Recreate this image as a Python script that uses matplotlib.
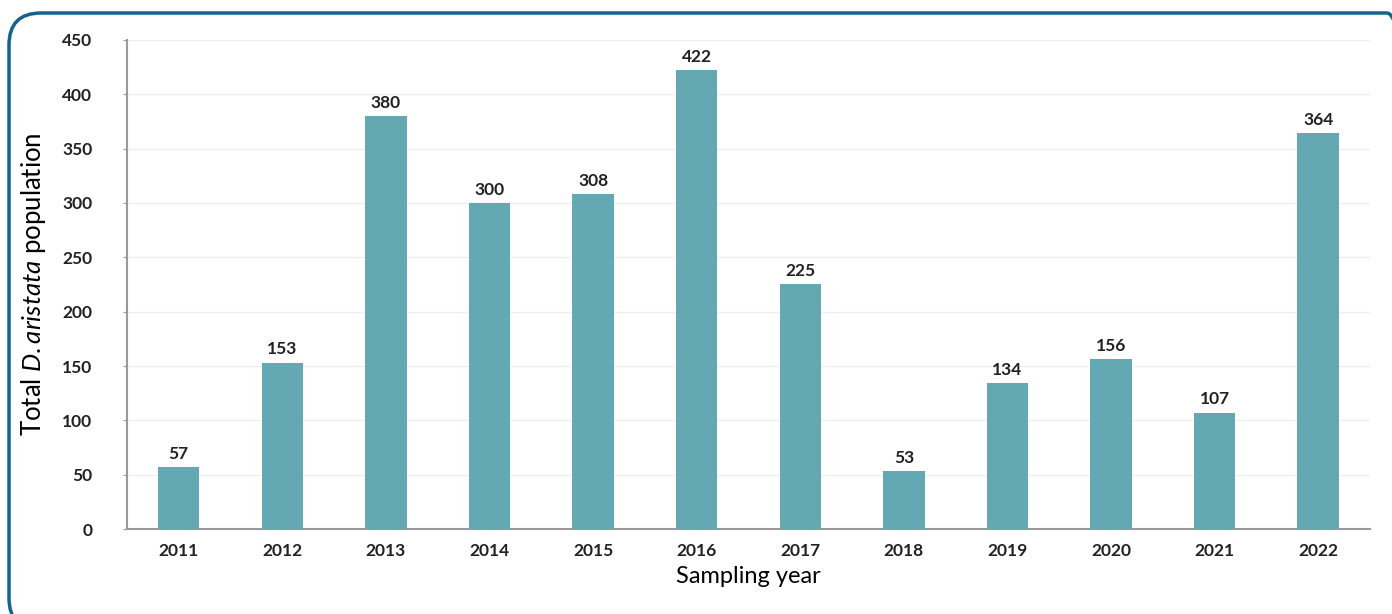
import matplotlib
matplotlib.use('Agg')
import matplotlib.pyplot as plt
from matplotlib.patches import FancyBboxPatch
from matplotlib.transforms import IdentityTransform

plt.rcParams['font.family'] = ['Lato', 'DejaVu Sans']
plt.rcParams['mathtext.fontset'] = 'custom'
plt.rcParams['mathtext.it'] = 'Lato:italic'
plt.rcParams['mathtext.rm'] = 'Lato'

years = ['2011', '2012', '2013', '2014', '2015', '2016',
         '2017', '2018', '2019', '2020', '2021', '2022']
population = [57, 153, 380, 300, 308, 422, 225, 53, 134, 156, 107, 364]

bar_color = '#63a8b3'

fig = plt.figure(figsize=(13.92, 6.14), dpi=100)

# rounded frame in pixel units; right and bottom edges run off the picture
frame = FancyBboxPatch((9, -16), 1410, 617,
                       boxstyle='round,pad=0,rounding_size=32',
                       transform=IdentityTransform(), fill=False,
                       edgecolor='#15628a', linewidth=2.5)
fig.patches.append(frame)

ax = fig.add_axes([0.0912, 0.1384, 0.893, 0.7965])
x = range(len(years))
bars = ax.bar(x, population, width=0.4, color=bar_color, zorder=3)

for xi, v in zip(x, population):
    ax.text(xi, v + 5, str(v), ha='center', va='bottom',
            fontsize=12.5, fontweight='bold', color='#222222')

ax.set_xlim(-0.5, 11.5)
ax.set_ylim(0, 450)
ax.set_yticks(range(0, 451, 50))
ax.set_xticks(list(x))
ax.set_xticklabels(years)
ax.tick_params(axis='both', labelsize=12.5, colors='#222222', length=0, pad=10)
ax.tick_params(axis='y', length=3, color='#999999', pad=22)
for lbl in ax.get_xticklabels() + ax.get_yticklabels():
    lbl.set_fontweight('bold')

ax.grid(axis='y', color='#eeeeee', linewidth=1, zorder=0)
for side in ['top', 'right']:
    ax.spines[side].set_visible(False)
ax.spines['left'].set_color('#999999')
ax.spines['bottom'].set_color('#999999')
ax.spines['left'].set_linewidth(1.5)
ax.spines['bottom'].set_linewidth(1.5)

ax.set_xlabel('Sampling year', fontsize=17, labelpad=5, color='black')
ax.set_ylabel('Total $\\mathit{D.aristata}$ population', fontsize=18.5,
              labelpad=10, color='black')

fig.savefig('out.png', dpi=100)
